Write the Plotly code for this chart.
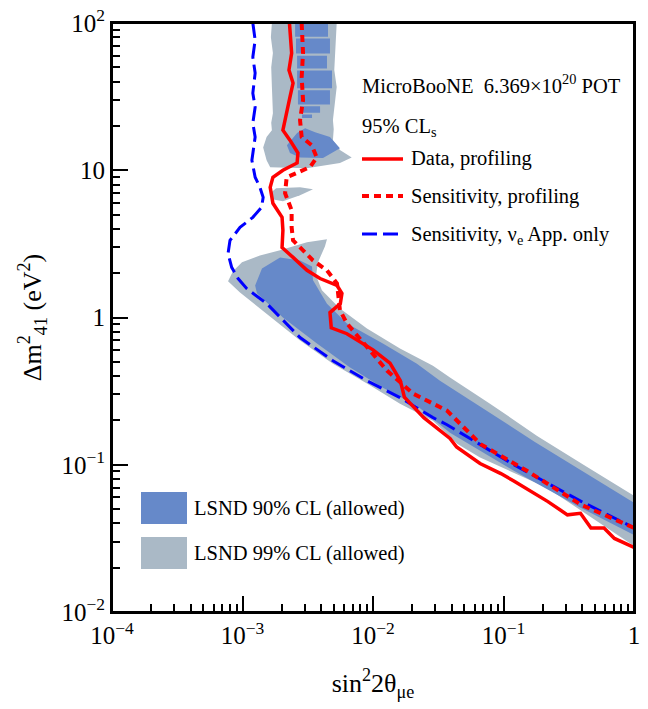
import plotly.graph_objects as go

# ---------------- data ----------------
# Data, profiling (red solid)
data_x = [0.00229, 0.00238, 0.00227, 0.00244, 0.00231, 0.00218, 0.00204, 0.00231, 0.00266,
          0.00262, 0.00204, 0.00171, 0.00163, 0.00171, 0.00201, 0.00204, 0.00201, 0.00244,
          0.00312, 0.00393, 0.00530, 0.00578, 0.00562, 0.00468, 0.00479, 0.00631, 0.0100,
          0.0135, 0.0162, 0.0174, 0.0245, 0.0389, 0.0437, 0.0661, 0.0955, 0.120, 0.219,
          0.309, 0.389, 0.468, 0.589, 0.708, 1.0]
data_y = [100, 62.5, 47.9, 39.1, 31.4, 24.4, 18.7, 16.0, 13.1,
          11.2, 10.0, 8.96, 7.66, 5.97, 4.79, 3.91, 2.99, 2.56,
          2.09, 1.84, 1.65, 1.46, 1.245, 1.08, 0.851, 0.776, 0.603,
          0.490, 0.372, 0.288, 0.209, 0.151, 0.132, 0.102, 0.0871, 0.0776, 0.0562,
          0.0457, 0.0468, 0.0372, 0.0372, 0.0316, 0.0275]

# Sensitivity, profiling (red dotted)
sens_x = [0.00284, 0.00291, 0.00284, 0.00291, 0.00276, 0.00284, 0.00339, 0.00371, 0.00329,
          0.00266, 0.00218, 0.00212, 0.00238, 0.00238, 0.00244, 0.00291, 0.00347, 0.00444,
          0.00530, 0.00558, 0.00632, 0.00948, 0.0128, 0.0203, 0.0369, 0.0667, 0.151,
          0.393, 1.0]
sens_y = [100, 62.5, 42.9, 29.9, 21.9, 16.8, 14.8, 12.2, 10.5,
          9.69, 8.96, 6.98, 5.35, 4.09, 3.34, 2.86, 2.44, 2.09,
          1.70, 1.12, 0.910, 0.597, 0.436, 0.304, 0.233, 0.138, 0.0910,
          0.0535, 0.0373]

# Sensitivity, nu_e appearance only (blue dashed)
app_x = [0.00120, 0.00125, 0.00120, 0.00125, 0.00120, 0.00125, 0.00120, 0.00125, 0.00118,
         0.00125, 0.00136, 0.00144, 0.00140, 0.00120, 0.000957, 0.000802, 0.000775,
         0.000826, 0.000925, 0.00108, 0.00154, 0.00276, 0.00493, 0.00899, 0.0161,
         0.0288, 0.0369, 0.120, 0.393, 1.0]
app_y = [100, 76.6, 58.7, 45.7, 33.4, 26.8, 20.9, 16.8, 11.7,
         8.96, 7.66, 6.55, 5.60, 4.79, 4.09, 3.34, 2.72,
         2.19, 1.84, 1.57, 1.24, 0.731, 0.509, 0.372, 0.286,
         0.209, 0.187, 0.100, 0.0564, 0.0373]

# LSND 99% CL allowed regions (grey)
lsnd99_top_x = [0.00168, 0.00165, 0.00171, 0.00166, 0.00168, 0.00171, 0.00166, 0.00168,
                0.00153, 0.00144, 0.00153, 0.00163, 0.00310, 0.00558, 0.00687, 0.00558,
                0.00493, 0.00500, 0.00493, 0.00527, 0.00505, 0.00512, 0.00527]
lsnd99_top_y = [100, 80.0, 62.5, 50.0, 36.7, 24.4, 21.0, 18.7,
                16.8, 14.3, 11.7, 10.5, 10.3, 11.2, 12.2, 13.7,
                16.0, 19.0, 21.9, 36.7, 48.0, 62.5, 100]

lsnd99_isl_x = [0.00163, 0.00181, 0.00276, 0.00347, 0.00276, 0.00204, 0.00168]
lsnd99_isl_y = [6.98, 7.55, 7.66, 7.43, 6.76, 6.15, 6.35]

lsnd99_band_x = [0.000775, 0.000845, 0.000991, 0.00136, 0.00194, 0.00312, 0.00444, 0.00428,
                 0.00379, 0.00366, 0.00406, 0.00558, 0.00899, 0.0161, 0.0288, 0.0389,
                 0.0788, 0.181, 0.422, 1.0, 1.0, 0.530, 0.215, 0.0661, 0.0441, 0.0288,
                 0.0161, 0.00899, 0.00493, 0.00276, 0.00154, 0.000957]
lsnd99_band_y = [1.76, 2.06, 2.37, 2.64, 2.86, 3.24, 3.40, 3.04,
                 2.37, 1.93, 1.53, 1.15, 0.841, 0.615, 0.471, 0.391,
                 0.260, 0.157, 0.0984, 0.0615, 0.0281, 0.0409, 0.0698, 0.112, 0.139, 0.199,
                 0.260, 0.356, 0.486, 0.698, 1.06, 1.48]

# LSND 90% CL allowed regions (blue): striped pieces at high dm2 (None separates pieces)
lsnd90_top_x = [0.00253, 0.00452, 0.00452, 0.00253, None,
                0.00257, 0.00468, 0.00468, 0.00257, None,
                0.00262, 0.00444, 0.00444, 0.00262, None,
                0.00262, 0.00485, 0.00485, 0.00262, None,
                0.00266, 0.00468, 0.00468, 0.00266, None,
                0.00276, 0.00393, 0.00393, 0.00276, None,
                0.00286, 0.00341, 0.00341, 0.00286, None,
                0.00262, 0.00219, 0.00231, 0.00276, 0.00414, 0.00558, 0.00468, 0.00360, 0.00302]
lsnd90_top_y = [100, 100, 80.5, 80.5, None,
                78.5, 78.5, 62.0, 62.0, None,
                60.0, 60.0, 49.0, 49.0, None,
                47.5, 47.5, 36.0, 36.0, None,
                35.0, 35.0, 28.0, 28.0, None,
                27.2, 27.2, 24.6, 24.6, None,
                23.9, 23.9, 22.6, 22.6, None,
                17.9, 14.8, 13.1, 12.2, 12.1, 14.1, 16.8, 18.1, 19.3]

lsnd90_band_x = [0.00125, 0.00141, 0.00194, 0.00276, 0.00341, 0.00347, 0.00444, 0.00632,
                 0.0119, 0.0217, 0.0326, 0.174, 1.0, 1.0, 0.393, 0.120, 0.0389, 0.0217,
                 0.0119, 0.00667, 0.00372, 0.00204, 0.00129]
lsnd90_band_y = [1.65, 2.15, 2.56, 2.44, 2.22, 1.79, 1.24, 0.910,
                 0.665, 0.486, 0.372, 0.143, 0.0551, 0.0334, 0.0509, 0.0910, 0.165, 0.252,
                 0.334, 0.457, 0.665, 1.0, 1.46]

x_tick_vals = [1e-4, 1e-3, 1e-2, 1e-1, 1]
x_tick_text = ["10<sup>−4</sup>", "10<sup>−3</sup>", "10<sup>−2</sup>", "10<sup>−1</sup>", "1"]
y_tick_vals = [1e-2, 1e-1, 1, 10, 100]
y_tick_text = ["10<sup>−2</sup>", "10<sup>−1</sup>", "1", "10", "10<sup>2</sup>"]

# ---------------- styles ----------------
GREY = "#aab9c6"
BLUE = "#6689c9"
RED = "#ff0000"
DBLUE = "#0000ff"
FONT = "Times New Roman, Liberation Serif, DejaVu Serif, serif"
DOT = "7px,5px"
DASH = "15px,6px"

W, H = 648, 709
L, R, T, B = 112, 14, 23, 97
PW, PH = W - L - R, H - T - B


def px(xp):  # window pixel -> paper fraction
    return (xp - L) / PW


def py(yp):
    return (H - B - yp) / PH


fig = go.Figure()

for xs, ys, col in [(lsnd99_top_x, lsnd99_top_y, GREY),
                    (lsnd99_isl_x, lsnd99_isl_y, GREY),
                    (lsnd99_band_x, lsnd99_band_y, GREY),
                    (lsnd90_top_x, lsnd90_top_y, BLUE),
                    (lsnd90_band_x, lsnd90_band_y, BLUE)]:
    fig.add_trace(go.Scatter(x=xs, y=ys, mode="lines", fill="toself", fillcolor=col,
                             line=dict(width=0, color=col), showlegend=False,
                             hoverinfo="skip"))

fig.add_trace(go.Scatter(x=app_x, y=app_y, mode="lines", name="Sensitivity, ν<sub>e</sub> App. only",
                         line=dict(color=DBLUE, width=3, dash=DASH), showlegend=False))
fig.add_trace(go.Scatter(x=sens_x, y=sens_y, mode="lines", name="Sensitivity, profiling",
                         line=dict(color=RED, width=4, dash=DOT), showlegend=False))
fig.add_trace(go.Scatter(x=data_x, y=data_y, mode="lines", name="Data, profiling",
                         line=dict(color=RED, width=3.5), showlegend=False))

# ---------------- legends (drawn manually) ----------------
shapes = []
annotations = []
for yy, col, dash, wd in [(159, RED, "solid", 3.5), (196, RED, DOT, 4), (234, DBLUE, DASH, 3)]:
    shapes.append(dict(type="line", xref="paper", yref="paper", x0=px(362), x1=px(403),
                       y0=py(yy), y1=py(yy), line=dict(color=col, width=wd, dash=dash)))

hdr = [("MicroBooNE  6.369×10<sup>20</sup> POT", 360, 84),
       ("95% CL<sub>s</sub>", 360, 127),
       ("Data, profiling", 409, 159),
       ("Sensitivity, profiling", 409, 196),
       ("Sensitivity, ν<sub>e</sub> App. only", 409, 236)]
for txt, xx, yy in hdr:
    annotations.append(dict(text=txt, x=px(xx), y=py(yy), xref="paper", yref="paper",
                            xanchor="left", yanchor="middle", showarrow=False,
                            font=dict(family=FONT, size=20.5, color="black")))

for (y0, y1, col, txt) in [(492, 524, BLUE, "LSND 90% CL (allowed)"),
                           (537, 569, GREY, "LSND 99% CL (allowed)")]:
    shapes.append(dict(type="rect", xref="paper", yref="paper", x0=px(141), x1=px(187),
                       y0=py(y1), y1=py(y0), fillcolor=col, line=dict(width=0)))
    annotations.append(dict(text=txt, x=px(192), y=py((y0 + y1) / 2), xref="paper", yref="paper",
                            xanchor="left", yanchor="middle", showarrow=False,
                            font=dict(family=FONT, size=20.5, color="black")))

# plotting frame
shapes.append(dict(type="rect", xref="paper", yref="paper", x0=0, x1=1, y0=0, y1=1,
                   line=dict(color="black", width=2), fillcolor="rgba(0,0,0,0)", layer="above"))

x_minor = [k * 10.0 ** d for d in range(-4, 0) for k in range(2, 10)]
y_minor = [k * 10.0 ** d for d in range(-2, 2) for k in range(2, 10)]

axis_common = dict(type="log", showgrid=False, zeroline=False, showline=True, mirror=True,
                   automargin=False, ticklabeloverflow="allow",
                   linecolor="black", linewidth=2, ticks="inside", ticklen=16, tickwidth=1.5,
                   tickcolor="black", tickfont=dict(family=FONT, size=25, color="black"))

fig.update_layout(
    width=W, height=H,
    margin=dict(l=L, r=R, t=T, b=B),
    paper_bgcolor="white", plot_bgcolor="white",
    showlegend=False,
    font=dict(family=FONT, color="black"),
    xaxis=dict(range=[-4, 0], tickmode="array", tickvals=x_tick_vals, ticktext=x_tick_text,
               minor=dict(tickmode="array", tickvals=x_minor, ticks="inside", ticklen=8,
                          tickwidth=1.5, tickcolor="black", showgrid=False),
               title=dict(text="sin<sup>2</sup>2θ<sub>μe</sub>",
                          font=dict(family=FONT, size=26, color="black"), standoff=26),
               **axis_common),
    yaxis=dict(range=[-2, 2], tickmode="array", tickvals=y_tick_vals, ticktext=y_tick_text,
               minor=dict(tickmode="array", tickvals=y_minor, ticks="inside", ticklen=8,
                          tickwidth=1.5, tickcolor="black", showgrid=False),
               title=dict(text="Δm<sup>2</sup><sub>41</sub> (eV<sup>2</sup>)",
                          font=dict(family=FONT, size=26, color="black"), standoff=12),
               **axis_common),
    shapes=shapes,
    annotations=annotations,
)

# remove the default 8 px page margin so the figure fills the window exactly
fig.write_html("out.html", config={"displayModeBar": False},
               post_script="document.body.style.margin='0px';")
